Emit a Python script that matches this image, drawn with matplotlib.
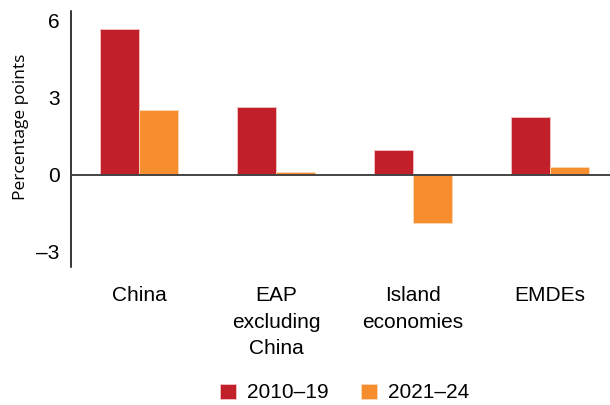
import numpy as np
import matplotlib.pyplot as plt

categories = ["China", "EAP\nexcluding\nChina", "Island\neconomies", "EMDEs"]
series_names = ["2010–19", "2021–24"]
vals_2010_19 = [5.68, 2.66, 0.98, 2.27]
vals_2021_24 = [2.53, 0.12, -1.88, 0.32]
yticks = [-3, 0, 3, 6]
ytick_labels = ["–3", "0", "3", "6"]

red = "#C1202A"
orange = "#F68D2E"

plt.rcParams['font.family'] = ['Liberation Sans', 'DejaVu Sans']

fig = plt.figure(figsize=(6.1, 4.05), dpi=100)
ax = fig.add_axes([0.116, 0.341, 0.884, 0.632])

x = np.arange(len(categories))
w = 0.287
ax.bar(x - w / 2, vals_2010_19, w, color=red, label=series_names[0],
       edgecolor="#f2c4c4", linewidth=0.6)
ax.bar(x + w / 2, vals_2021_24, w, color=orange, label=series_names[1],
       edgecolor="#fbd9b8", linewidth=0.6)

ax.axhline(0, color="#444444", linewidth=1.4, zorder=3)
ax.set_xlim(-0.5, 3.44)
ax.set_ylim(-3.58, 6.38)

ax.set_yticks(yticks)
ax.set_yticklabels(ytick_labels, fontsize=15)
ax.tick_params(axis="y", length=0, pad=8)
ax.set_xticks(x)
ax.set_xticklabels(categories, fontsize=15, linespacing=1.5)
ax.tick_params(axis="x", length=0, pad=14)

for s in ["top", "right", "bottom"]:
    ax.spines[s].set_visible(False)
ax.spines["left"].set_linewidth(1.1)

ax.set_ylabel("Percentage points", fontsize=12.5, family=["Open Sans", "DejaVu Sans"])
ax.yaxis.set_label_coords(-0.0775, 0.547)

fig.legend(loc="lower center", bbox_to_anchor=(0.565, -0.04), ncol=2, frameon=False,
           fontsize=15, handlelength=0.75, handleheight=0.75, columnspacing=1.55,
           handletextpad=0.53)

fig.savefig("out.png", dpi=100)
